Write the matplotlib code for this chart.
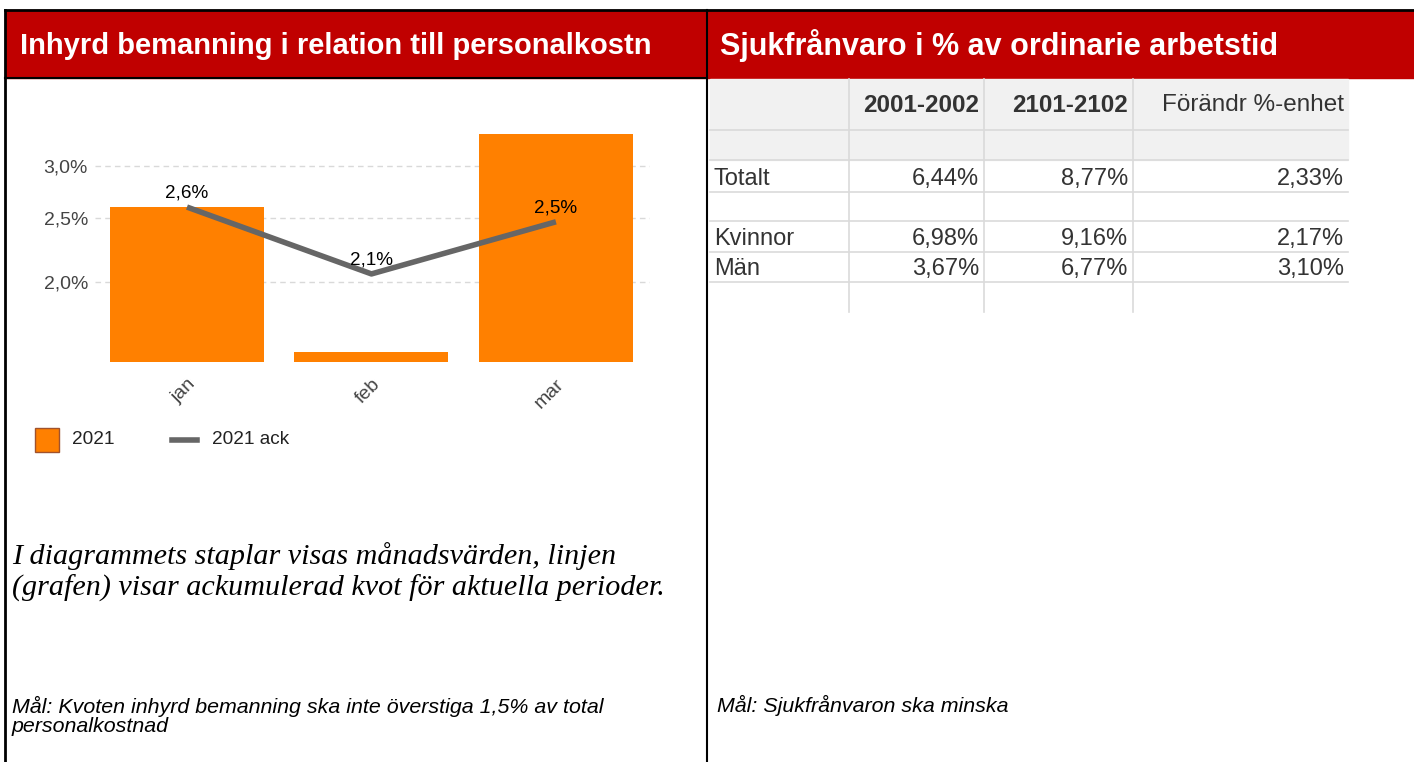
import matplotlib
matplotlib.use('Agg')
import matplotlib.pyplot as plt
from matplotlib.patches import Rectangle
from matplotlib.lines import Line2D
from matplotlib.ticker import FixedLocator, NullLocator, FixedFormatter

W, H = 1414, 762

# ---- chart data ----
months = ['jan', 'feb', 'mar']
bar_2021 = [2.60, 1.57, 3.35]
line_2021_ack = [2.60, 2.06, 2.47]
line_labels = ['2,6%', '2,1%', '2,5%']
yticks = [2.0, 2.5, 3.0]
ytick_labels = ['2,0%', '2,5%', '3,0%']
legend_labels = ['2021', '2021 ack']

# ---- table data ----
table_cols = ['2001-2002', '2101-2102', 'Förändr %-enhet']
row_labels = ['Totalt', 'Kvinnor', 'Män']
v2001 = ['6,44%', '6,98%', '3,67%']
v2101 = ['8,77%', '9,16%', '6,77%']
v_change = ['2,33%', '2,17%', '3,10%']

title_left = 'Inhyrd bemanning i relation till personalkostn'
title_right = 'Sjukfrånvaro i % av ordinarie arbetstid'
note_text = ('I diagrammets staplar visas månadsvärden, linjen\n'
             '(grafen) visar ackumulerad kvot för aktuella perioder.')
goal_left = 'Mål: Kvoten inhyrd bemanning ska inte överstiga 1,5% av total\npersonalkostnad'
goal_right = 'Mål: Sjukfrånvaron ska minska'

RED = '#C00000'
ORANGE = '#FF8000'
GRAY_LINE = '#666666'
SANS = ['Liberation Sans', 'DejaVu Sans']

fig = plt.figure(figsize=(W / 100, H / 100), dpi=100)
bg = fig.add_axes([0, 0, 1, 1])
bg.set_xlim(0, W)
bg.set_ylim(H, 0)
bg.axis('off')

# header bands
bg.add_patch(Rectangle((5, 10), 702, 68, color=RED, zorder=1))
bg.add_patch(Rectangle((707, 10), W - 707, 68, color=RED, zorder=1))
bg.text(20, 46, title_left, color='white', fontsize=21, fontweight='bold',
        family=SANS, va='center', ha='left')
bg.text(720, 46, title_right, color='white', fontsize=22, fontweight='bold',
        family=SANS, va='center', ha='left')

# borders
bg.plot([5, W], [10, 10], color='black', lw=2, zorder=5)
bg.plot([5, 5], [10, H], color='black', lw=2, zorder=5)
bg.plot([707, 707], [10, H], color='black', lw=1.5, zorder=5)
bg.plot([5, 707], [78, 78], color='black', lw=1.5, zorder=5)

# ---- table ----
tx0, tx1 = 710, 1348
col_lines = [849, 984, 1133]
bg.add_patch(Rectangle((tx0, 79), tx1 - tx0, 81, color='#F1F1F1', zorder=1))
hlines = [130, 160, 192, 221, 252, 282]
for y in hlines:
    bg.plot([tx0, tx1], [y, y], color='#DADADA', lw=1.2, zorder=2)
for x in col_lines:
    bg.plot([x, x], [79, 312], color='#DADADA', lw=1.2, zorder=2)

col_right = [979, 1128, 1344]
for xr, name in zip(col_right, table_cols):
    bold = name != table_cols[-1]
    bg.text(xr, 105, name, ha='right', va='center', fontsize=17.5 if bold else 17.5,
            family=SANS, color='#333333', fontweight='bold' if bold else 'normal')

row_y = [179, 239, 269]
for y, lab, a, b, c in zip(row_y, row_labels, v2001, v2101, v_change):
    bg.text(714, y, lab, ha='left', va='center', fontsize=17, family=SANS, color='#333333')
    bg.text(col_right[0], y, a, ha='right', va='center', fontsize=17, family=SANS, color='#333333')
    bg.text(col_right[1], y, b, ha='right', va='center', fontsize=17, family=SANS, color='#333333')
    bg.text(col_right[2], y, c, ha='right', va='center', fontsize=17, family=SANS, color='#333333')

# ---- texts ----
bg.text(12, 572, note_text, ha='left', va='center', fontsize=21.7, style='italic',
        family=['Liberation Serif', 'DejaVu Serif'], color='black', linespacing=1.25)
bg.text(12, 716, goal_left, ha='left', va='center', fontsize=15.4, style='italic',
        family=SANS, color='black', linespacing=1.05)
bg.text(717, 705, goal_right, ha='left', va='center', fontsize=15.4, style='italic',
        family=SANS, color='black')

# ---- chart ----
ax_l, ax_r, ax_t, ax_b = 95, 650, 130, 362
ax = fig.add_axes([ax_l / W, 1 - ax_b / H, (ax_r - ax_l) / W, (ax_b - ax_t) / H])
ax.set_yscale('log')
ax.set_ylim(1.516, 3.40)
ax.set_xlim(-0.4986, 2.51)
x = list(range(len(months)))
ax.bar(x, bar_2021, width=0.835, color=ORANGE, zorder=2)
ax.plot(x, line_2021_ack, color=GRAY_LINE, lw=4, zorder=3, solid_capstyle='butt')
for xi, yi, lab in zip(x, line_2021_ack, line_labels):
    ax.annotate(lab, (xi, yi), xytext=(0, 4), textcoords='offset points',
                ha='center', va='bottom', fontsize=13.6, family=SANS, color='black', zorder=4)
ax.yaxis.set_major_locator(FixedLocator(yticks))
ax.yaxis.set_major_formatter(FixedFormatter(ytick_labels))
ax.yaxis.set_minor_locator(NullLocator())
ax.grid(axis='y', color='#D9D9D9', linestyle=(0, (4, 3)), lw=1, zorder=0)
for s in ax.spines.values():
    s.set_visible(False)
ax.tick_params(axis='y', length=0, pad=5, labelsize=14, labelcolor='#444444')
ax.set_xticks(x)
ax.set_xticklabels(months, rotation=45, ha='right', rotation_mode='anchor',
                   fontsize=14, color='#444444', family=SANS)
ax.tick_params(axis='x', length=0, pad=10)
for lab in ax.get_yticklabels():
    lab.set_family(SANS)
ax.patch.set_alpha(0)

# legend (drawn manually in figure pixel space)
bg.add_patch(Rectangle((35, 428), 24, 24, facecolor=ORANGE, edgecolor='#A0522D', lw=1, zorder=3))
bg.text(72, 440, legend_labels[0], ha='left', va='center', fontsize=13.7, family=SANS, color='#222222')
bg.add_artist(Line2D([172, 197], [440, 440], color=GRAY_LINE, lw=4))
bg.text(212, 440, legend_labels[1], ha='left', va='center', fontsize=13.7, family=SANS, color='#222222')

fig.savefig('out.png', dpi=100)
